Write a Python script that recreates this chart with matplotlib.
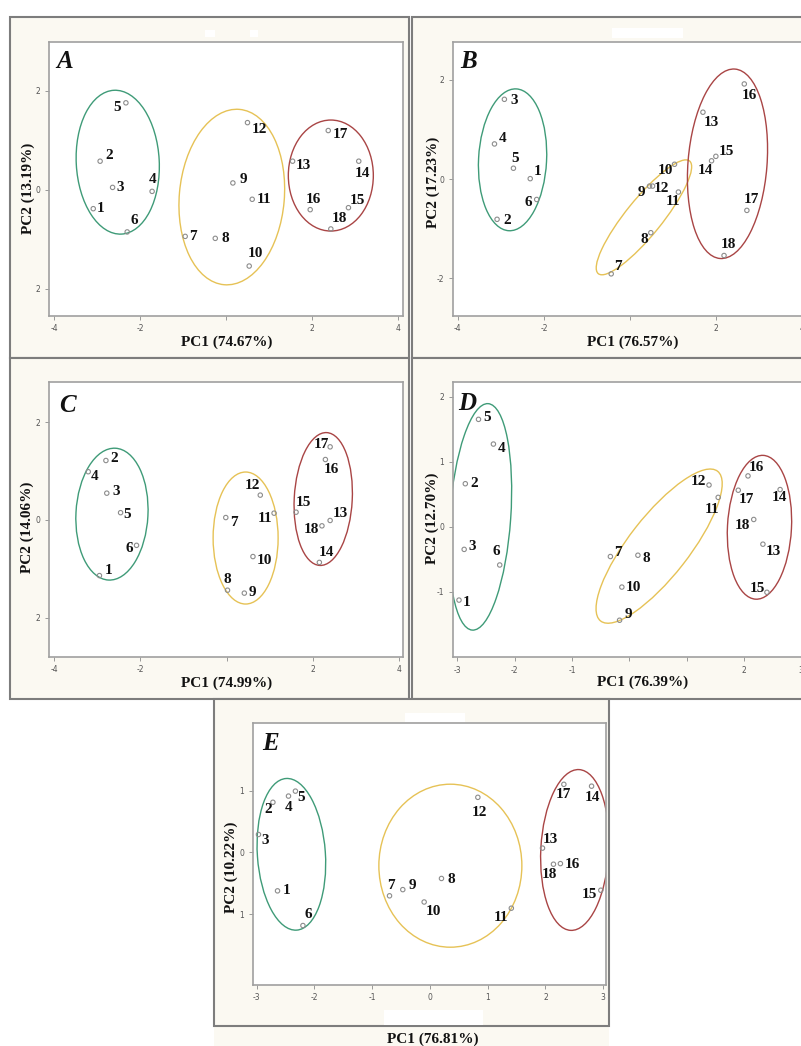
import matplotlib
matplotlib.use('Agg')
import matplotlib.pyplot as plt
from matplotlib.patches import Ellipse, Rectangle
from matplotlib.transforms import ScaledTranslation

W, H = 801, 1046

# ---------------- data ----------------
SAMPLES = list(range(1, 19))
GROUPS = [0] * 6 + [1] * 6 + [2] * 6

A_PC1 = [-3.09, -2.93, -2.64, -1.72, -2.33, -2.30, -0.95, -0.25, 0.16, 0.54, 0.61, 0.50, 1.55, 3.09, 2.85, 1.96, 2.38, 2.44]
A_PC2 = [-0.38, 0.58, 0.05, -0.03, 1.76, -0.85, -0.94, -0.98, 0.14, -1.54, -0.19, 1.36, 0.58, 0.58, -0.36, -0.40, 1.20, -0.79]
B_PC1 = [-2.32, -3.09, -2.92, -3.15, -2.71, -2.17, -0.44, 0.48, 0.45, 1.03, 1.12, 0.52, 1.69, 1.89, 1.99, 2.65, 2.71, 2.18]
B_PC2 = [0.01, -0.81, 1.61, 0.71, 0.22, -0.41, -1.91, -1.08, -0.14, 0.30, -0.26, -0.14, 1.35, 0.37, 0.46, 1.92, -0.63, -1.54]
C_PC1 = [-2.95, -2.80, -2.78, -3.21, -2.46, -2.09, -0.02, 0.02, 0.41, 0.61, 1.10, 0.78, 2.40, 2.15, 1.61, 2.29, 2.40, 2.21]
C_PC2 = [-1.14, 1.22, 0.55, 0.99, 0.15, -0.52, 0.05, -1.44, -1.50, -0.75, 0.14, 0.51, -0.01, -0.87, 0.16, 1.24, 1.50, -0.12]
D_PC1 = [-2.97, -2.86, -2.88, -2.37, -2.63, -2.26, -0.33, 0.15, -0.17, -0.13, 1.55, 1.39, 2.33, 2.63, 2.40, 2.07, 1.90, 2.17]
D_PC2 = [-1.13, 0.66, -0.35, 1.27, 1.65, -0.59, -0.46, -0.44, -1.44, -0.93, 0.45, 0.64, -0.27, 0.57, -1.01, 0.78, 0.56, 0.11]
E_PC1 = [-2.64, -2.72, -2.97, -2.45, -2.33, -2.20, -0.70, 0.20, -0.47, -0.10, 1.41, 0.83, 1.95, 2.80, 2.96, 2.26, 2.32, 2.14]
E_PC2 = [-0.62, 0.81, 0.29, 0.91, 0.99, -1.18, -0.70, -0.42, -0.60, -0.80, -0.90, 0.89, 0.07, 1.07, -0.61, -0.18, 1.10, -0.19]

PANELS = ['A', 'B', 'C', 'D', 'E']
PC1_VAR = ['74.67', '76.57', '74.99', '76.39', '76.81']
PC2_VAR = ['13.19', '17.23', '14.06', '12.70', '10.22']

X_TICKS = {
    'A': ([-4, -2, 0, 2, 4], ['-4', '-2', '', '2', '4']),
    'B': ([-4, -2, 0, 2, 4], ['-4', '-2', '', '2', '4']),
    'C': ([-4, -2, 0, 2, 4], ['-4', '-2', '', '2', '4']),
    'D': ([-3, -2, -1, 0, 1, 2, 3], ['-3', '-2', '-1', '', '', '2', '3']),
    'E': ([-3, -2, -1, 0, 1, 2, 3], ['-3', '-2', '-1', '0', '1', '2', '3']),
}
Y_TICKS = {
    'A': ([2, 0, -2], ['2', '0', '2']),
    'B': ([2, 0, -2], ['2', '0', '-2']),
    'C': ([2, 0, -2], ['2', '0', '2']),
    'D': ([2, 1, 0, -1], ['2', '1', '0', '-1']),
    'E': ([1, 0, -1], ['1', '0', '1']),
}
DATA = {'A': (A_PC1, A_PC2), 'B': (B_PC1, B_PC2), 'C': (C_PC1, C_PC2),
        'D': (D_PC1, D_PC2), 'E': (E_PC1, E_PC2)}

# ---------------- layout (page pixels, y down) ----------------
FRAMES = {'A': (10, 17, 409, 358), 'B': (412, 17, 815, 358), 'C': (10, 358, 409, 699),
          'D': (412, 358, 815, 699), 'E': (214, 699, 609, 1026)}
AX_RECT = {'A': (49, 42, 403, 316), 'B': (452.7, 42.3, 830, 316), 'C': (49, 382, 403, 657),
           'D': (452.7, 382.3, 830, 657.3), 'E': (252.7, 723, 606, 985)}
XLIM = {'A': (-4.12, 4.12), 'B': (-4.12, 4.64), 'C': (-4.12, 4.09), 'D': (-3.08, 3.50), 'E': (-3.07, 3.05)}
YLIM = {'A': (-2.55, 2.99), 'B': (-2.76, 2.76), 'C': (-2.81, 2.83), 'D': (-2.01, 2.22), 'E': (-2.14, 2.09)}
LETTER_POS = {'A': (65, 62), 'B': (469, 62), 'C': (67, 405), 'D': (467, 403), 'E': (271, 744)}
XLAB_POS = {'A': (227, 342), 'B': (633, 342), 'C': (227, 683), 'D': (643, 682), 'E': (433, 1039)}
YLAB_POS = {'A': (28, 188), 'B': (433, 182), 'C': (27, 527), 'D': (432, 518), 'E': (231, 867)}

OFFSETS = {
    'A': [(7, 0), (9, -6), (8, 0), (0, -12), (-9, 5), (7, -11), (8, 0), (10, 0), (11, -3), (6, -13),
          (12, 0), (12, 7), (11, 4), (4, 12), (9, -7), (3, -10), (12, 4), (9, -10)],
    'B': [(7, -7), (10, 1), (10, 1), (8, -5), (2, -10), (-8, 3), (7, -7), (-7, 7), (-8, 6), (-9, 6),
          (-5, 9), (9, 2), (8, 10), (-6, 10), (11, -5), (5, 12), (5, -11), (4, -11)],
    'C': [(9, -5), (8, -2), (9, -2), (6, 5), (7, 2), (-7, 3), (8, 5), (0, -11), (8, -1), (11, 4),
          (-9, 5), (-8, -10), (10, -7), (7, -10), (7, -10), (6, 10), (-9, -2), (-11, 4)],
    'D': [(8, 2), (9, 0), (8, -3), (8, 4), (9, -2), (-3, -13), (8, -4), (8, 3), (9, -6), (12, 0),
          (-6, 12), (-11, -4), (10, 7), (-1, 8), (-10, -4), (8, -8), (8, 9), (-11, 6)],
    'E': [(9, 0), (-5, 7), (7, 6), (0, 11), (6, 6), (5, -11), (1, -10), (10, 1), (10, -4), (9, 9),
          (-10, 9), (2, 15), (8, -9), (1, 11), (-11, 4), (12, 1), (0, 10), (-4, 10)],
}

# ellipses: center (data), width px, height px, angle deg
ELLIPSES = {
    'A': [(-2.52, 0.56, 83, 144, 3), (0.135, -0.145, 105, 176, -5), (2.44, 0.29, 85, 111, 0)],
    'B': [(-2.73, 0.39, 68, 142, -3), (0.32, -0.77, 145, 36, 51), (2.26, 0.31, 79, 190, -4.5)],
    'C': [(-2.66, 0.12, 72, 132, -3), (0.44, -0.37, 65, 132, 0), (2.24, 0.43, 58, 133, -3)],
    'D': [(-2.60, 0.15, 61, 227, -4), (0.52, -0.30, 190, 60, 52), (2.27, -0.01, 64, 144, -3)],
    'E': [(-2.40, -0.03, 68, 152, 4), (0.354, -0.214, 143, 163, 0), (2.51, 0.04, 68, 161, -3)],
}
GROUP_COLORS = ['#3f9b78', '#e6c256', '#a94545']

WHITE_SPOTS = [(612, 28, 683, 38), (205, 30, 215, 37), (250, 30, 258, 37),
               (405, 713, 465, 722), (384, 1010, 483, 1025)]

SERIF = 'Liberation Serif'
CREAM = '#fbf9f2'

fig = plt.figure(figsize=(W / 100, H / 100), dpi=100)
fig.patch.set_facecolor('white')


def fx(x):
    return x / W


def fy(y):
    return 1 - y / H


def add_rect(x0, y0, x1, y1, fc, ec, lw, z):
    r = Rectangle((fx(x0), fy(y1)), fx(x1) - fx(x0), fy(y0) - fy(y1), transform=fig.transFigure,
                  facecolor=fc, edgecolor=ec, linewidth=lw, zorder=z)
    fig.add_artist(r)


# cream strip below E frame
add_rect(214, 1026, 609, 1046, CREAM, 'none', 0, -3)
for p in PANELS:
    x0, y0, x1, y1 = FRAMES[p]
    add_rect(x0, y0, x1, y1, CREAM, '#7d7d7d', 1.5, -2)
for (x0, y0, x1, y1) in WHITE_SPOTS:
    add_rect(x0, y0, x1, y1, 'white', 'none', 0, -1)

for i, p in enumerate(PANELS):
    l, t, r, b = AX_RECT[p]
    ax = fig.add_axes([fx(l), fy(b), fx(r) - fx(l), fy(t) - fy(b)])
    ax.set_facecolor('white')
    xs, ys = DATA[p]
    ax.set_xlim(*XLIM[p])
    ax.set_ylim(*YLIM[p])

    for (cx, cy, w, h, ang), col in zip(ELLIPSES[p], GROUP_COLORS):
        trans = fig.dpi_scale_trans + ScaledTranslation(cx, cy, ax.transData)
        e = Ellipse((0, 0), w / 100, h / 100, angle=ang, fill=False, edgecolor=col,
                    linewidth=1.0, transform=trans)
        ax.add_patch(e)

    ax.scatter(xs, ys, s=10, facecolors='none', edgecolors='#8c8c8c', linewidths=0.8, zorder=3)
    for s, x, y, (dx, dy) in zip(SAMPLES, xs, ys, OFFSETS[p]):
        ax.annotate(str(s), (x, y), xytext=(dx, -dy), textcoords='offset pixels',
                    ha='center', va='center', fontsize=11, fontweight='bold',
                    family=SERIF, color='#111111', zorder=4)

    xt, xl = X_TICKS[p]
    yt, yl = Y_TICKS[p]
    ax.set_xticks(xt)
    ax.set_xticklabels(xl)
    ax.set_yticks(yt)
    ax.set_yticklabels(yl)
    ax.tick_params(direction='out', length=3, width=0.6, colors='#8a8a8a', labelsize=5.5,
                   labelcolor='#555555', pad=3)
    for sp in ax.spines.values():
        sp.set_color('#a0a0a0')
        sp.set_linewidth(1.2)
    ax.set_xlim(*XLIM[p])
    ax.set_ylim(*YLIM[p])

    lx, ly = LETTER_POS[p]
    fig.text(fx(lx), fy(ly), p, fontsize=18, fontweight='bold', fontstyle='italic',
             family=SERIF, ha='center', va='center', color='#111111')
    lx, ly = XLAB_POS[p]
    fig.text(fx(lx), fy(ly), 'PC1 (' + PC1_VAR[i] + '%)', fontsize=11, fontweight='bold',
             family=SERIF, ha='center', va='center', color='#111111')
    lx, ly = YLAB_POS[p]
    fig.text(fx(lx), fy(ly), 'PC2 (' + PC2_VAR[i] + '%)', fontsize=11, fontweight='bold',
             family=SERIF, ha='center', va='center', rotation=90, color='#111111')

fig.savefig('out.png', dpi=100)
